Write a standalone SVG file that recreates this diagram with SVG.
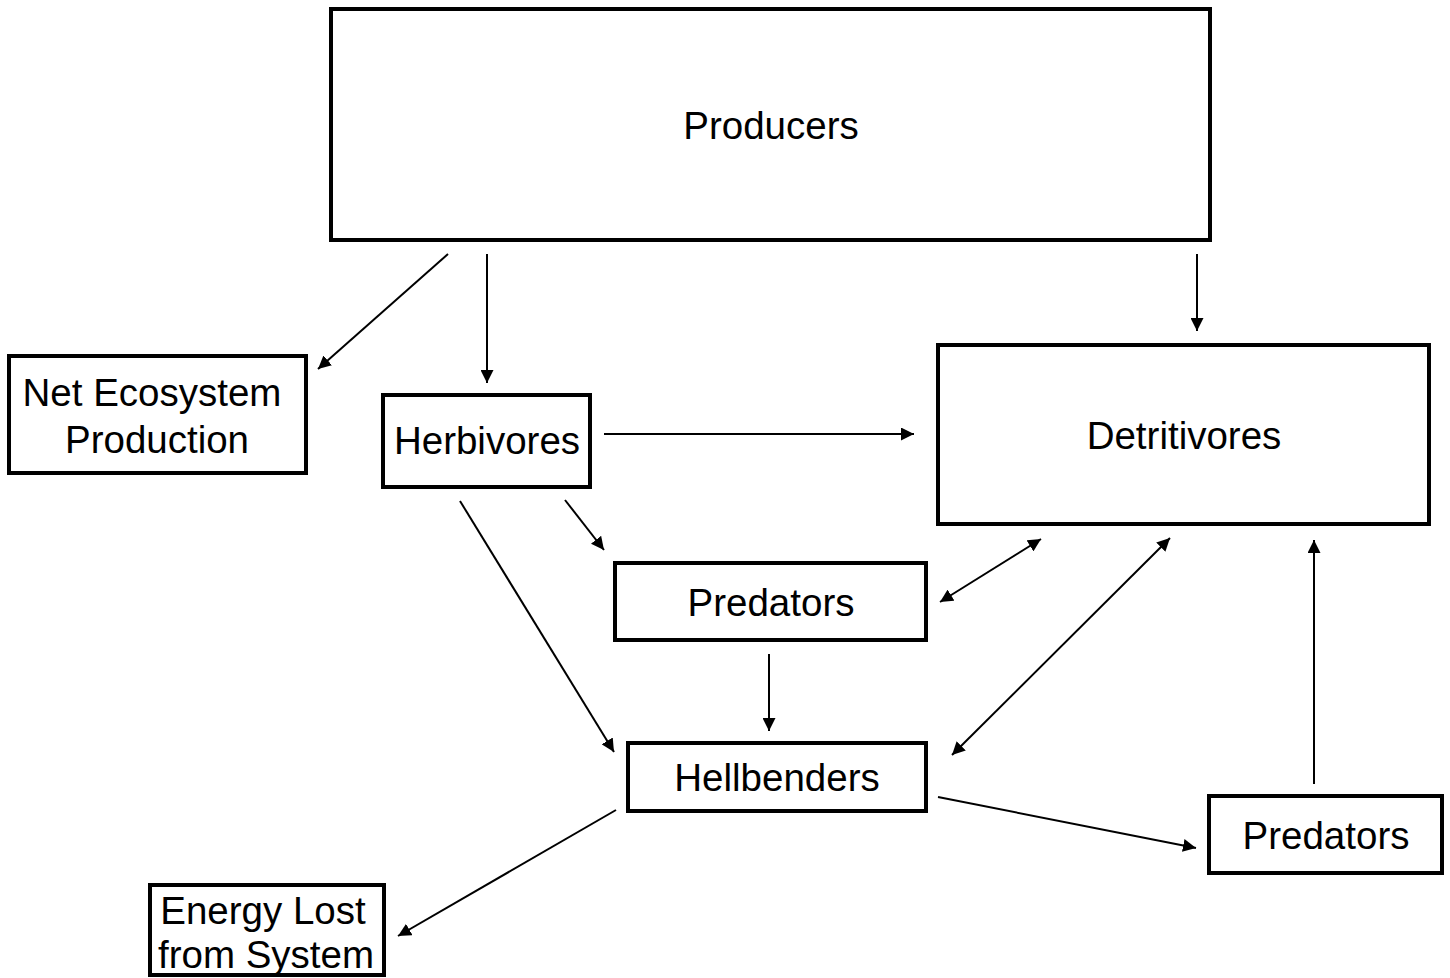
<svg xmlns="http://www.w3.org/2000/svg" width="1450" height="978" viewBox="0 0 1450 978">
<style>
.box{fill:#fff;stroke:#000;stroke-width:4}
.lbl{font-family:"Liberation Sans",Arial,sans-serif;font-size:38.5px;fill:#000;text-anchor:middle}
.c line{stroke:#000;stroke-width:2}
</style>
<defs>
<marker id="ah" viewBox="0 0 13 13" refX="13" refY="6.5" markerWidth="13" markerHeight="13" markerUnits="userSpaceOnUse" orient="auto-start-reverse">
<path d="M0,0 L13,6.5 L0,13 Z" fill="#000"/>
</marker>
</defs>
<rect width="1450" height="978" fill="#fff"/>
<g id="producers"><rect class="box" x="331" y="9" width="879" height="231"/><text class="lbl" x="771" y="139">Producers</text></g>
<g id="nep"><rect class="box" x="9" y="356" width="297" height="117"/><text class="lbl" x="152" y="406">Net Ecosystem</text><text class="lbl" x="157" y="453">Production</text></g>
<g id="herbivores"><rect class="box" x="383" y="395" width="207" height="92"/><text class="lbl" x="487" y="454">Herbivores</text></g>
<g id="detritivores"><rect class="box" x="938" y="345" width="491" height="179"/><text class="lbl" x="1184" y="449">Detritivores</text></g>
<g id="predators1"><rect class="box" x="615" y="563" width="311" height="77"/><text class="lbl" x="771" y="616">Predators</text></g>
<g id="hellbenders"><rect class="box" x="628" y="743" width="298" height="68"/><text class="lbl" x="777" y="791">Hellbenders</text></g>
<g id="predators2"><rect class="box" x="1209" y="796" width="233" height="77"/><text class="lbl" x="1326" y="849">Predators</text></g>
<g id="energylost"><rect class="box" x="150" y="885" width="234" height="90"/><text class="lbl" x="263" y="924">Energy Lost</text><text class="lbl" x="266" y="968">from System</text></g>
<g id="connectors" class="c">
<line x1="448" y1="254" x2="318" y2="369" marker-end="url(#ah)"/>
<line x1="487" y1="254" x2="487" y2="383" marker-end="url(#ah)"/>
<line x1="1197" y1="254" x2="1197" y2="331" marker-end="url(#ah)"/>
<line x1="604" y1="434" x2="914" y2="434" marker-end="url(#ah)"/>
<line x1="565" y1="500" x2="604" y2="550" marker-end="url(#ah)"/>
<line x1="460" y1="501" x2="614" y2="752" marker-end="url(#ah)"/>
<line x1="769" y1="654" x2="769" y2="731" marker-end="url(#ah)"/>
<line x1="940" y1="602" x2="1041" y2="539" marker-start="url(#ah)" marker-end="url(#ah)"/>
<line x1="952" y1="755" x2="1170" y2="538" marker-start="url(#ah)" marker-end="url(#ah)"/>
<line x1="1314" y1="784" x2="1314" y2="540" marker-end="url(#ah)"/>
<line x1="938" y1="797" x2="1196" y2="848" marker-end="url(#ah)"/>
<line x1="616" y1="810" x2="398" y2="936" marker-end="url(#ah)"/>
</g>
</svg>
